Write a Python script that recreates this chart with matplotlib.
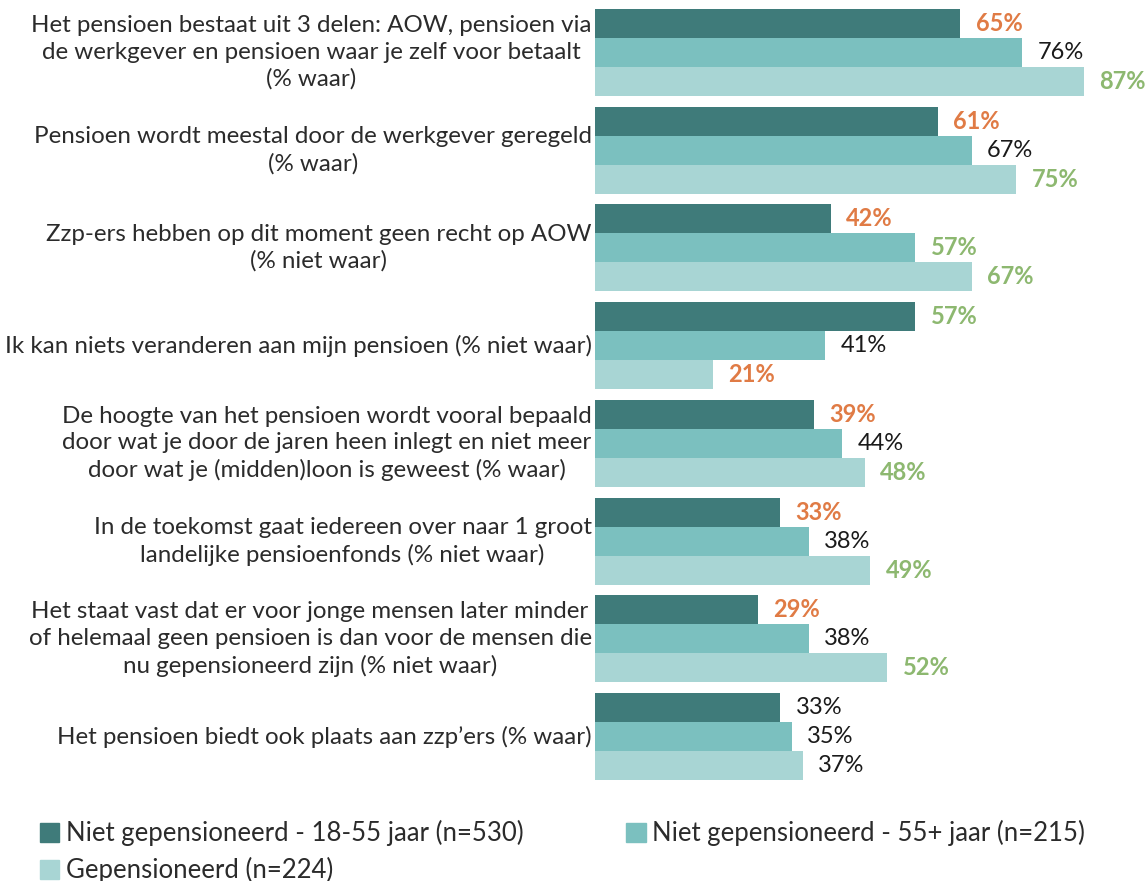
import matplotlib.pyplot as plt
import matplotlib.transforms as mtransforms
from matplotlib.patches import Patch

plt.rcParams['font.family'] = ['Lato', 'DejaVu Sans']

categories = [
    'Het pensioen bestaat uit 3 delen: AOW, pensioen via\nde werkgever en pensioen waar je zelf voor betaalt\n(% waar)',
    'Pensioen wordt meestal door de werkgever geregeld\n(% waar)',
    'Zzp-ers hebben op dit moment geen recht op AOW\n(% niet waar)',
    'Ik kan niets veranderen aan mijn pensioen (% niet waar)',
    'De hoogte van het pensioen wordt vooral bepaald\ndoor wat je door de jaren heen inlegt en niet meer\ndoor wat je (midden)loon is geweest (% waar)',
    'In de toekomst gaat iedereen over naar 1 groot\nlandelijke pensioenfonds (% niet waar)',
    'Het staat vast dat er voor jonge mensen later minder\nof helemaal geen pensioen is dan voor de mensen die\nnu gepensioneerd zijn (% niet waar)',
    'Het pensioen biedt ook plaats aan zzp\u2019ers (% waar)',
]
series_names = [
    'Niet gepensioneerd - 18-55 jaar (n=530)',
    'Niet gepensioneerd - 55+ jaar (n=215)',
    'Gepensioneerd (n=224)',
]
jong = [65, 61, 42, 57, 39, 33, 29, 33]
oud = [76, 67, 57, 41, 44, 38, 38, 35]
gepens = [87, 75, 67, 21, 48, 49, 52, 37]
# o = significant lager, g = significant hoger, k = geen verschil
sig_jong = ['o', 'o', 'o', 'g', 'o', 'o', 'o', 'k']
sig_oud = ['k', 'k', 'g', 'k', 'k', 'k', 'k', 'k']
sig_gepens = ['g', 'g', 'g', 'o', 'g', 'g', 'g', 'k']

bar_colors = ['#3f7b7a', '#7bc0bf', '#a8d5d4']
sig_colors = {'o': '#e07b45', 'g': '#8db870', 'k': '#1a1a1a'}

fig = plt.figure(figsize=(11.48, 8.81), dpi=100)
ax = fig.add_axes([595/1148, 1-780/881, 1-595/1148, (780-9)/881])

h = 0.296
for s, (vals, sig) in enumerate(zip([jong, oud, gepens], [sig_jong, sig_oud, sig_gepens])):
    ys = [i + (s-1)*h for i in range(len(categories))]
    ax.barh(ys, vals, height=h, color=bar_colors[s], edgecolor='none')
    for y, v, c in zip(ys, vals, sig):
        ax.annotate(f'{v}%', (v, y), xytext=(11, 0), textcoords='offset points',
                    ha='left', va='center', fontsize=17, color=sig_colors[c],
                    fontweight='bold' if c != 'k' else 'normal')

trans = mtransforms.blended_transform_factory(ax.transAxes, ax.transData)
for i, cat in enumerate(categories):
    ax.text(-0.006, i, cat, transform=trans, ha='right', va='center',
            multialignment='center', fontsize=17.4, color='#2b2b2b', linespacing=1.32)

ax.set_xlim(0, 98.4)
ax.set_ylim(len(categories)-1+1.5*h, -1.5*h)
ax.axis('off')

handles = [Patch(color=c) for c in bar_colors]
order = [0, 2, 1]
fig.legend([handles[i] for i in order], [series_names[i] for i in order],
           loc='upper left', bbox_to_anchor=(35/1148, 1-815/881), ncol=2,
           frameon=False, fontsize=18.5, handlelength=0.75, handleheight=0.75,
           handletextpad=0.25, columnspacing=4.0, labelspacing=0.42,
           labelcolor='#2b2b2b', borderaxespad=0, borderpad=0.2)

fig.savefig('out.png', dpi=100)
